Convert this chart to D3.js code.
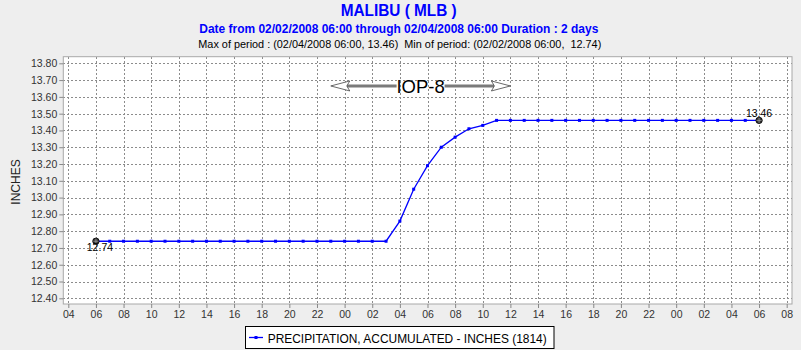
<!DOCTYPE html>
<html><head><meta charset="utf-8">
<script src="https://cdn.jsdelivr.net/npm/d3@7"></script>
<style>body{margin:0;background:#eeeeee;} svg{display:block;font-family:"Liberation Sans",Arial,sans-serif;}</style>
</head><body><svg id="c" width="801" height="350"></svg>
<script>
const times = [
 "2008-02-02T06:00","2008-02-02T07:00","2008-02-02T08:00","2008-02-02T09:00","2008-02-02T10:00","2008-02-02T11:00",
 "2008-02-02T12:00","2008-02-02T13:00","2008-02-02T14:00","2008-02-02T15:00","2008-02-02T16:00","2008-02-02T17:00",
 "2008-02-02T18:00","2008-02-02T19:00","2008-02-02T20:00","2008-02-02T21:00","2008-02-02T22:00","2008-02-02T23:00",
 "2008-02-03T00:00","2008-02-03T01:00","2008-02-03T02:00","2008-02-03T03:00","2008-02-03T04:00","2008-02-03T05:00",
 "2008-02-03T06:00","2008-02-03T07:00","2008-02-03T08:00","2008-02-03T09:00","2008-02-03T10:00","2008-02-03T11:00",
 "2008-02-03T12:00","2008-02-03T13:00","2008-02-03T14:00","2008-02-03T15:00","2008-02-03T16:00","2008-02-03T17:00",
 "2008-02-03T18:00","2008-02-03T19:00","2008-02-03T20:00","2008-02-03T21:00","2008-02-03T22:00","2008-02-03T23:00",
 "2008-02-04T00:00","2008-02-04T01:00","2008-02-04T02:00","2008-02-04T03:00","2008-02-04T04:00","2008-02-04T05:00",
 "2008-02-04T06:00"];
const precip = [
 12.74,12.74,12.74,12.74,12.74,12.74,12.74,12.74,12.74,12.74,12.74,12.74,
 12.74,12.74,12.74,12.74,12.74,12.74,12.74,12.74,12.74,12.74,12.86,13.05,
 13.19,13.30,13.36,13.41,13.43,13.46,13.46,13.46,13.46,13.46,13.46,13.46,
 13.46,13.46,13.46,13.46,13.46,13.46,13.46,13.46,13.46,13.46,13.46,13.46,
 13.46];
const yTicks = [12.40,12.50,12.60,12.70,12.80,12.90,13.00,13.10,13.20,13.30,13.40,13.50,13.60,13.70,13.80];
const xDomain = ["2008-02-02T04:00","2008-02-04T08:00"];
const titleText = "MALIBU ( MLB )";
const subtitleText = "Date from 02/02/2008 06:00 through 02/04/2008 06:00 Duration : 2 days";
const statsText = "Max of period : (02/04/2008 06:00, 13.46)  Min of period: (02/02/2008 06:00,  12.74)";
const yLabel = "INCHES";
const legendText = "PRECIPITATION, ACCUMULATED - INCHES (1814)";
const annotation = {text:"IOP-8", start:"2008-02-02T23:00", end:"2008-02-03T12:00", level:13.665};

const parse = d3.timeParse("%Y-%m-%dT%H:%M");
const data = times.map((t,i)=>({t:parse(t), v:precip[i]}));

const svg = d3.select("#c");
svg.append("rect").attr("width",801).attr("height",350).attr("fill","#eeeeee");

const P = {l:63.3, t:56.7, r:792, b:304};
const x = d3.scaleTime().domain(xDomain.map(parse)).range([68.3, 786.7]);
const y = d3.scaleLinear().domain([12.40, 13.80]).range([298.3, 63.3]);
const xTicks = d3.timeHour.every(2).range(x.domain()[0], d3.timeMinute.offset(x.domain()[1],1));

// plot background
svg.append("rect").attr("x",P.l).attr("y",P.t).attr("width",P.r-P.l).attr("height",P.b-P.t).attr("fill","#ffffff");

// grid
const g = svg.append("g").attr("stroke","#8c8c8c").attr("stroke-width",1).attr("stroke-dasharray","2,2").attr("shape-rendering","crispEdges");
g.selectAll(".gx").data(xTicks).join("line").attr("x1",d=>Math.round(x(d))+0.5).attr("x2",d=>Math.round(x(d))+0.5).attr("y1",P.t).attr("y2",P.b);
g.selectAll(".gy").data(yTicks).join("line").attr("y1",d=>Math.round(y(d))+0.5).attr("y2",d=>Math.round(y(d))+0.5).attr("x1",P.l).attr("x2",P.r);

// border
svg.append("rect").attr("x",P.l).attr("y",P.t).attr("width",P.r-P.l).attr("height",P.b-P.t).attr("fill","none").attr("stroke","#a8a8a8").attr("stroke-width",1);

// axes
const ya = svg.append("g").attr("transform",`translate(${P.l},0)`)
  .call(d3.axisLeft(y).tickValues(yTicks).tickFormat(d3.format(".2f")).tickSize(4).tickPadding(2));
ya.select(".domain").remove();
ya.selectAll("text").attr("font-size",10.5).attr("font-family","Liberation Sans, Arial, sans-serif").attr("fill","#333");
ya.selectAll("line").attr("stroke","#888");
const xa = svg.append("g").attr("transform",`translate(0,${P.b})`)
  .call(d3.axisBottom(x).tickValues(xTicks).tickFormat(d3.timeFormat("%H")).tickSize(4).tickPadding(2.5));
xa.select(".domain").remove();
xa.selectAll("text").attr("font-size",10.5).attr("font-family","Liberation Sans, Arial, sans-serif").attr("fill","#333");
xa.selectAll("line").attr("stroke","#888");

// y label
svg.append("text").attr("transform","translate(19.5,182) rotate(-90)").attr("text-anchor","middle")
  .attr("font-size",12).attr("fill","#222").text(yLabel);

// titles
svg.append("text").attr("x",398.7).attr("y",16).attr("text-anchor","middle").attr("font-size",17).attr("font-weight","bold")
  .attr("fill","#0000ff").attr("textLength",116).attr("lengthAdjust","spacingAndGlyphs").text(titleText);
svg.append("text").attr("x",398.8).attr("y",33).attr("text-anchor","middle").attr("font-size",13).attr("font-weight","bold")
  .attr("fill","#0000ff").attr("textLength",399).attr("lengthAdjust","spacingAndGlyphs").text(subtitleText);
svg.append("text").attr("x",399.8).attr("y",47.5).attr("text-anchor","middle").attr("font-size",11.5)
  .attr("fill","#000").attr("textLength",403).attr("lengthAdjust","spacingAndGlyphs").attr("xml:space","preserve").style("white-space","pre").text(statsText);

// annotation
const ax1 = x(parse(annotation.start)), ax2 = x(parse(annotation.end)), ay = y(annotation.level);
const axm = (ax1+ax2)/2;
const ann = svg.append("g");
ann.append("line").attr("x1",ax1+16).attr("x2",axm-24).attr("y1",ay).attr("y2",ay).attr("stroke","#7a7a7a").attr("stroke-width",3);
ann.append("line").attr("x1",axm+24).attr("x2",ax2-16).attr("y1",ay).attr("y2",ay).attr("stroke","#7a7a7a").attr("stroke-width",3);
ann.append("path").attr("d",`M${ax1},${ay} L${ax1+19},${ay-5} L${ax1+16},${ay} L${ax1+19},${ay+5} Z`).attr("fill","#fff").attr("stroke","#444").attr("stroke-width",0.8);
ann.append("path").attr("d",`M${ax2},${ay} L${ax2-19},${ay-5} L${ax2-16},${ay} L${ax2-19},${ay+5} Z`).attr("fill","#fff").attr("stroke","#444").attr("stroke-width",0.8);
ann.append("text").attr("x",axm).attr("y",ay+6.7).attr("text-anchor","middle").attr("font-size",18.5).attr("fill","#000").text(annotation.text);

// series
const line = d3.line().x(d=>x(d.t)).y(d=>y(d.v));
svg.append("path").datum(data).attr("d",line).attr("fill","none").attr("stroke","#0000ff").attr("stroke-width",1.3);
svg.selectAll(".pt").data(data.slice(1,-1)).join("rect").attr("x",d=>x(d.t)-1.5).attr("y",d=>y(d.v)-1.5).attr("width",3).attr("height",3).attr("fill","#0000ff");

// endpoint markers & labels
const ends = [data[0], data[data.length-1]];
const em = svg.selectAll(".em").data(ends).join("g").attr("transform",d=>`translate(${x(d.t)},${y(d.v)})`);
em.append("circle").attr("r",3.2).attr("fill","#333").attr("stroke","#000").attr("stroke-width",0.8);
em.append("path").attr("d","M-2.5,0H2.5M0,-2.5V2.5").attr("stroke","#aaa").attr("stroke-width",0.7);
svg.append("text").attr("x",x(ends[0].t)+4).attr("y",y(ends[0].v)+9.5).attr("text-anchor","middle").attr("font-size",10.5).attr("fill","#000").text(d3.format(".2f")(ends[0].v));
svg.append("text").attr("x",x(ends[1].t)).attr("y",y(ends[1].v)-3.5).attr("text-anchor","middle").attr("font-size",10.5).attr("fill","#000").text(d3.format(".2f")(ends[1].v));

// legend
const lg = svg.append("g");
lg.append("rect").attr("x",245.5).attr("y",326.5).attr("width",308.5).attr("height",22).attr("fill","#fff").attr("stroke","#000").attr("stroke-width",1);
lg.append("line").attr("x1",249).attr("x2",263).attr("y1",337.5).attr("y2",337.5).attr("stroke","#0000ff").attr("stroke-width",1.3);
lg.append("rect").attr("x",254.5).attr("y",336).attr("width",3).attr("height",3).attr("fill","#0000ff");
lg.append("text").attr("x",267.7).attr("y",342.5).attr("font-size",13).attr("fill","#000").attr("textLength",279).attr("lengthAdjust","spacingAndGlyphs").text(legendText);
</script></body></html>
